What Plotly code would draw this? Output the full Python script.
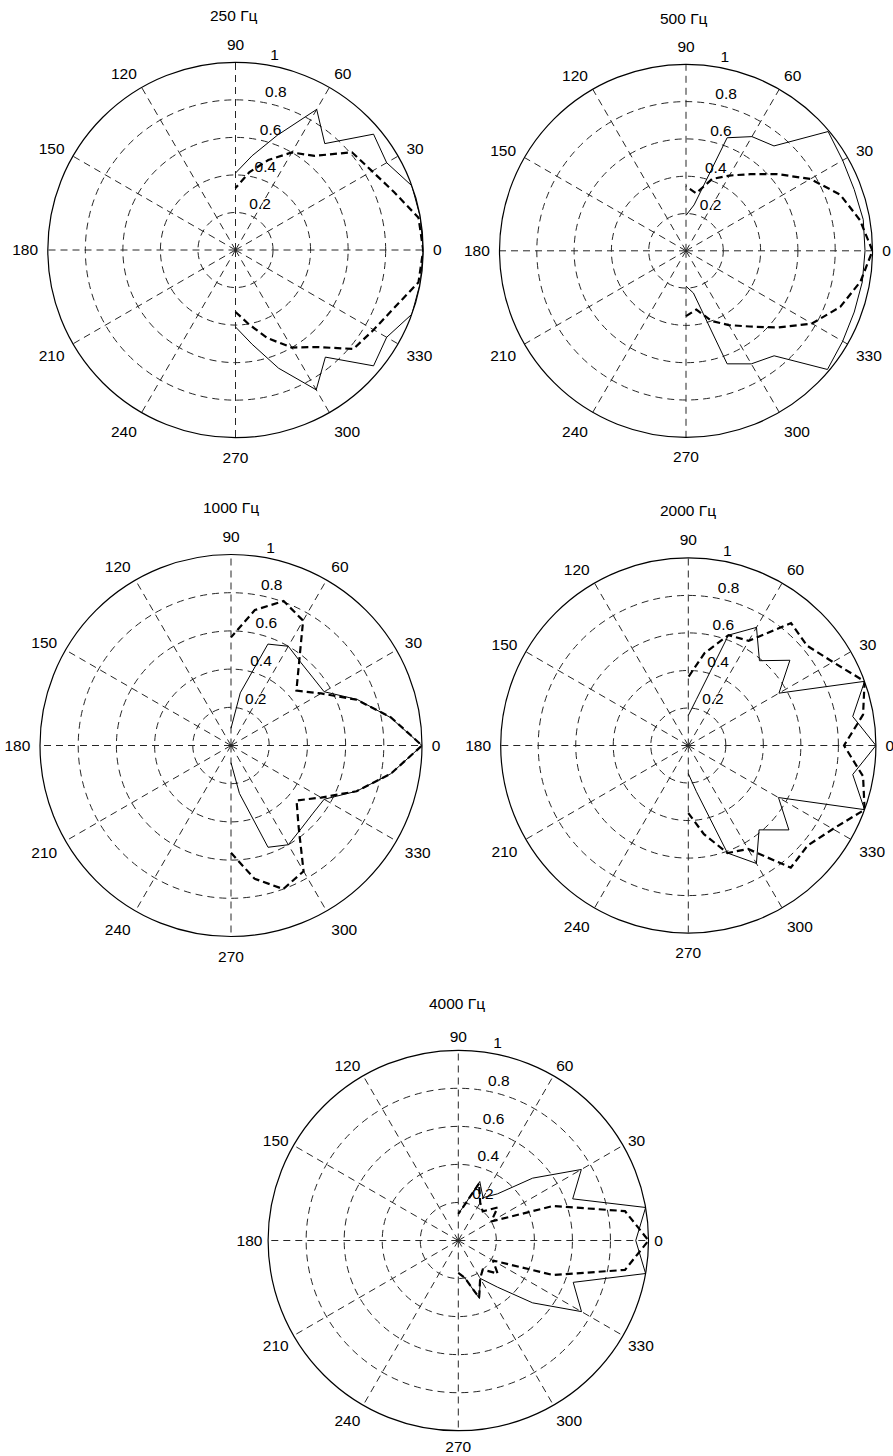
import plotly.graph_objects as go

# ---------------- data ----------------
angles = [270, 280, 290, 300, 310, 320, 330, 340, 350, 0, 10, 20, 30, 40, 50, 60, 70, 80, 90]
angle_ticks = [0, 30, 60, 90, 120, 150, 180, 210, 240, 270, 300, 330]
radial_ticks = [0.2, 0.4, 0.6, 0.8, 1.0]
radial_tick_text = ["0.2", "0.4", "0.6", "0.8", "1"]
titles = ["250 Гц", "500 Гц", "1000 Гц", "2000 Гц", "4000 Гц"]

solid_250 = [0.41, 0.51, 0.67, 0.86, 0.745, 0.96, 0.93, 1.0, 1.0, 1.0, 1.0, 1.0, 0.93, 0.96, 0.74, 0.865, 0.65, 0.51, 0.41]
dashed_250 = [0.33, 0.40, 0.50, 0.60, 0.675, 0.82, 0.85, 0.90, 0.99, 1.0, 0.99, 0.90, 0.84, 0.81, 0.655, 0.60, 0.51, 0.42, 0.33]

solid_500 = [0.19, 0.23, 0.645, 0.70, 0.735, 0.99, 0.97, 0.96, 0.96, 0.96, 0.965, 0.96, 0.97, 0.995, 0.734, 0.707, 0.645, 0.25, 0.19]
dashed_500 = [0.35, 0.32, 0.40, 0.46, 0.53, 0.64, 0.78, 0.88, 0.95, 1.0, 0.947, 0.88, 0.77, 0.64, 0.536, 0.466, 0.41, 0.313, 0.347]

solid_1000 = [0.09, 0.255, 0.567, 0.60, 0.57, 0.557, 0.563, 0.70, 0.85, 1.0, 0.847, 0.704, 0.563, 0.557, 0.568, 0.60, 0.565, 0.28, 0.09]
dashed_1000 = [0.562, 0.708, 0.80, 0.76, 0.55, 0.448, 0.545, 0.70, 0.85, 1.0, 0.85, 0.70, 0.545, 0.447, 0.553, 0.755, 0.805, 0.72, 0.566]

solid_2000 = [0.15, 0.25, 0.61, 0.726, 0.587, 0.70, 0.555, 1.0, 0.89, 1.0, 0.89, 1.0, 0.558, 0.707, 0.59, 0.727, 0.626, 0.25, 0.16]
dashed_2000 = [0.36, 0.48, 0.61, 0.637, 0.85, 0.83, 0.89, 1.0, 0.946, 0.83, 0.946, 1.0, 0.89, 0.827, 0.852, 0.644, 0.626, 0.50, 0.365]

solid_4000 = [0.17, 0.20, 0.325, 0.23, 0.32, 0.51, 0.748, 0.643, 1.0, 0.933, 1.0, 0.64, 0.747, 0.51, 0.32, 0.26, 0.33, 0.19, 0.14]
dashed_4000 = [0.17, 0.20, 0.32, 0.23, 0.20, 0.27, 0.21, 0.53, 0.89, 1.0, 0.89, 0.53, 0.20, 0.27, 0.20, 0.23, 0.32, 0.19, 0.14]

solid_series = [solid_250, solid_500, solid_1000, solid_2000, solid_4000]
dashed_series = [dashed_250, dashed_500, dashed_1000, dashed_2000, dashed_4000]

# ---------------- layout (pixels) ----------------
W, H = 893, 1456
# centre x, centre y, radius, title x, title y, label gap
panels = [
    (235.5, 250.0, 187.7, 234.0, 16.0, 6),
    (686.0, 250.8, 186.5, 684.3, 18.3, 6),
    (231.0, 745.5, 191.0, 230.5, 507.3, 6),
    (688.3, 745.5, 187.6, 687.5, 510.7, 6),
    (458.3, 1240.5, 190.2, 457.2, 1003.3, 2),
]

FONT = "Liberation Sans, Arial, sans-serif"
FS = 15.5
GRID = "#262626"

fig = go.Figure()
annotations = []
layout_polars = {}

for i, (cx, cy, R, tx, ty, gap) in enumerate(panels):
    name = "polar" if i == 0 else f"polar{i+1}"
    sub = name
    dom_x = [(cx - R) / W, (cx + R) / W]
    dom_y = [1 - (cy + R) / H, 1 - (cy - R) / H]
    layout_polars[name] = dict(
        domain=dict(x=dom_x, y=dom_y),
        bgcolor="white",
        radialaxis=dict(
            range=[0, 1], tickvals=radial_ticks[:-1], showticklabels=False,
            ticks="", showline=False, gridcolor=GRID, griddash="7px,5px", gridwidth=0.8,
        ),
        angularaxis=dict(
            rotation=0, direction="counterclockwise",
            tickvals=angle_ticks, ticktext=[str(a) for a in angle_ticks],
            showline=True, linecolor="black", linewidth=1.2,
            gridcolor=GRID, griddash="7px,5px", gridwidth=0.8,
            ticks="outside", ticklen=gap, tickcolor="rgba(0,0,0,0)",
            tickfont=dict(family=FONT, size=FS, color="black"),
        ),
    )
    fig.add_trace(go.Scatterpolar(
        r=solid_series[i], theta=angles, mode="lines",
        line=dict(color="black", width=1), subplot=sub, showlegend=False,
    ))
    fig.add_trace(go.Scatterpolar(
        r=dashed_series[i], theta=angles, mode="lines",
        line=dict(color="black", width=2.2, dash="7px,4px"), subplot=sub, showlegend=False,
    ))
    fig.add_trace(go.Scatterpolar(
        r=radial_ticks, theta=[82] * len(radial_ticks), mode="text",
        text=["\u00a0\u00a0" + t for t in radial_tick_text], textposition="top right",
        textfont=dict(family=FONT, size=FS, color="black"),
        cliponaxis=False, subplot=sub, showlegend=False, hoverinfo="skip",
    ))
    annotations.append(dict(
        text=titles[i], x=tx / W, y=1 - ty / H, xref="paper", yref="paper",
        xanchor="center", yanchor="middle", showarrow=False,
        font=dict(family=FONT, size=FS, color="black"),
    ))

fig.update_layout(
    width=W, height=H, margin=dict(l=0, r=0, t=0, b=0),
    paper_bgcolor="white", plot_bgcolor="white",
    annotations=annotations, showlegend=False,
    **layout_polars,
)

fig.write_html("out.html")
